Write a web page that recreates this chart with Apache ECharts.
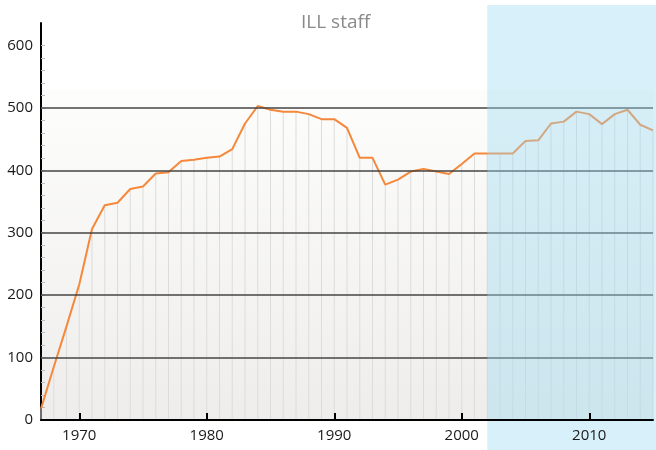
<!DOCTYPE html>
<html>
<head>
<meta charset="utf-8">
<script src="https://cdn.jsdelivr.net/npm/echarts@6/dist/echarts.min.js"></script>
<style>
  html, body { margin: 0; padding: 0; background: #fff; }
  #chart { width: 656px; height: 450px; }
</style>
</head>
<body>
<div id="chart"></div>
<script>
// ILL staff per year
const years = [1967, 1968, 1969, 1970, 1971, 1972, 1973, 1974, 1975, 1976,
  1977, 1978, 1979, 1980, 1981, 1982, 1983, 1984, 1985, 1986,
  1987, 1988, 1989, 1990, 1991, 1992, 1993, 1994, 1995, 1996,
  1997, 1998, 1999, 2000, 2001, 2002, 2003, 2004, 2005, 2006,
  2007, 2008, 2009, 2010, 2011, 2012, 2013, 2014, 2015];
const staff = [18, 85, 150, 217, 306, 344, 348, 370, 374, 395,
  397, 415, 417, 420, 422, 434, 475, 503, 497, 494,
  494, 490, 482, 482, 468, 420, 420, 377, 385, 398,
  402, 398, 394, 410, 427, 427, 427, 427, 447, 448,
  475, 478, 494, 490, 474, 490, 497, 473, 464];
const gridValues = [100, 200, 300, 400, 500];
const yTicks = [0, 20, 40, 60, 80, 100, 120, 140, 160, 180, 200, 220, 240, 260, 280,
  300, 320, 340, 360, 380, 400, 420, 440, 460, 480, 500, 520, 540, 560, 580, 600];
const yLabels = [0, 100, 200, 300, 400, 500, 600];
const xLabels = [1970, 1980, 1990, 2000, 2010];
const shadeStart = 2002;

const points = years.map((y, i) => [y, staff[i]]);
const font = 'Open Sans';

const chart = echarts.init(document.getElementById('chart'));
chart.setOption({
  animation: false,
  title: {
    text: 'ILL staff',
    left: 296,
    top: 8,
    textStyle: { color: '#8a8a8a', fontSize: 19, fontWeight: 'normal', fontFamily: font }
  },
  grid: {
    left: 41,
    right: 3,
    top: 23,
    bottom: 30,
    show: true,
    borderWidth: 0,
    backgroundColor: {
      type: 'linear', x: 0, y: 0, x2: 0, y2: 1,
      colorStops: [
        { offset: 0, color: '#ffffff' },
        { offset: 0.165, color: '#ffffff' },
        { offset: 0.17, color: '#fdfdfc' },
        { offset: 1, color: '#eeedec' }
      ]
    }
  },
  xAxis: {
    type: 'value',
    min: 1967,
    max: 2015,
    z: 110,
    axisLine: { lineStyle: { color: '#000', width: 2 } },
    axisTick: {
      show: true,
      customValues: xLabels,
      inside: true,
      length: 7,
      lineStyle: { color: '#000', width: 2 }
    },
    axisLabel: {
      customValues: xLabels,
      formatter: v => String(v),
      color: '#1a1a1a',
      fontSize: 15,
      fontFamily: font,
      margin: 8
    },
    splitLine: { show: false }
  },
  yAxis: {
    type: 'value',
    min: 0,
    max: 636,
    axisLine: { show: true, lineStyle: { color: '#000', width: 2 } },
    axisTick: {
      show: true,
      customValues: yTicks,
      inside: true,
      length: 4,
      lineStyle: { color: '#bbbbbb', width: 1 }
    },
    axisLabel: {
      customValues: yLabels,
      color: '#1a1a1a',
      fontSize: 15,
      fontFamily: font,
      margin: 8
    },
    splitLine: { show: false }
  },
  series: [
    {
      type: 'bar',
      data: points,
      barWidth: 1,
      silent: true,
      itemStyle: { color: '#dcdcdc' },
      z: 1,
      markLine: {
        silent: true,
        symbol: 'none',
        label: { show: false },
        lineStyle: { color: '#444', width: 1.5, type: 'solid' },
        data: gridValues.map(v => ({ yAxis: v }))
      }
    },
    {
      type: 'line',
      data: points,
      showSymbol: false,
      silent: true,
      lineStyle: { color: '#f5883a', width: 2 },
      z: 3
    }
  ]
});

// blue shaded period, from 2002 to the right edge, over the plot
const sx = chart.convertToPixel({ xAxisIndex: 0 }, shadeStart);
chart.setOption({
  graphic: [{
    type: 'rect',
    silent: true,
    z: 100,
    shape: { x: sx, y: 5, width: 656 - sx, height: 445 },
    style: { fill: 'rgba(155,218,240,0.4)' }
  }]
});
</script>
</body>
</html>
